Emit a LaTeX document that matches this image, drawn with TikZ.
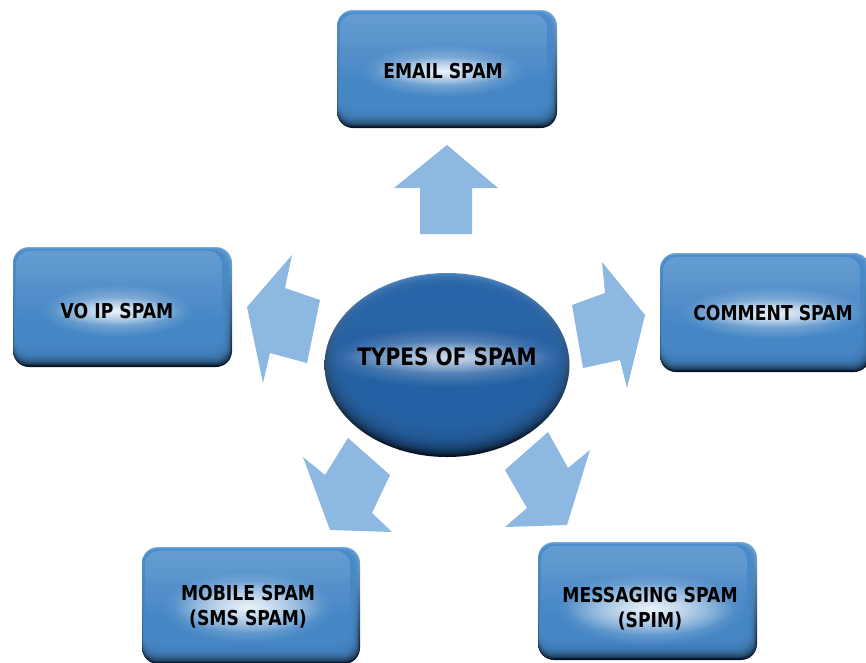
\documentclass[tikz,border=0pt]{standalone}
\usepackage{fontspec}
\setmainfont{DejaVu Sans}[FakeStretch=0.84]
\usetikzlibrary{shapes.geometric,fadings}
\definecolor{boxblue}{RGB}{72,138,202}
\definecolor{boxtop}{RGB}{130,180,226}
\definecolor{boxdark}{RGB}{6,18,32}
\definecolor{arrowblue}{RGB}{141,184,226}
\definecolor{ellblue}{RGB}{40,101,168}
\definecolor{elltop}{RGB}{80,135,195}
\definecolor{elldark}{RGB}{4,18,34}
\tikzfading[name=glowfade, inner color=transparent!0, outer color=transparent!100]
\tikzfading[name=topfade, top color=transparent!0, bottom color=transparent!100]
\begin{document}
\begin{tikzpicture}[x=1pt,y=-1pt,
  spambox/.style={rectangle, rounded corners=16pt, inner sep=0pt,
    top color=boxtop, bottom color=boxdark,
    path picture={
      \foreach \i in {1,...,12}{
        \fill[boxblue, fill opacity=0.25, rounded corners=15pt]
          ([shift={(\i*0.15pt,-\i*0.4pt)}]path picture bounding box.north west)
          rectangle
          ([shift={(-\i*0.8pt,\i*1.6pt)}]path picture bounding box.south east);
      }
      \fill[white, fill opacity=0.16, path fading=topfade, rounded corners=14pt]
          ([shift={(3pt,-4pt)}]path picture bounding box.north west)
          rectangle
          ([shift={(-10pt,45pt)}]path picture bounding box.south east);
    }},
  centerell/.style={ellipse, inner sep=0pt, top color=elltop, bottom color=elldark,
    path picture={
      \foreach \i in {1,...,16}{
        \fill[ellblue, fill opacity=0.2]
          ([shift={(\i*0.05pt,\i*0.5pt)}]path picture bounding box.center)
          ellipse ({122.5pt-\i*1.4pt} and {92pt-\i*1.6pt});
      }
    }},
  glow/.style={white, fill opacity=0.55, path fading=glowfade},
  tightglow/.style={white, fill opacity=0.75, path fading=glowfade},
  lab/.style={font=\fontsize{20.5}{25}\selectfont\bfseries, text=black, align=center, inner sep=0pt},
  biglab/.style={font=\fontsize{24}{29}\selectfont\bfseries, text=black, align=center, inner sep=0pt},
  blockarrow/.style={fill=arrowblue, draw=none}
]
\path[use as bounding box] (0,0) rectangle (866,662);
\clip (0,0) rectangle (866,662);
\fill[white] (0,0) rectangle (866,662);

% arrows
\fill[blockarrow] (420,234) -- (472,234) -- (472,188) -- (498,188) -- (447,145) -- (394,188) -- (420,188) -- cycle;
\fill[blockarrow] (292,255) -- (247,307) -- (263,383) -- (270,353) -- (307,363) -- (320,300) -- (285,288) -- cycle;
\fill[blockarrow] (602,262) -- (645,315) -- (627,388) -- (620,360) -- (583,368) -- (572,305) -- (605,293) -- cycle;
\fill[blockarrow] (303,457) -- (325,475) -- (348,438) -- (390,475) -- (372,513) -- (392,532) -- (330,530) -- cycle;
\fill[blockarrow] (505,470) -- (548,432) -- (568,468) -- (590,450) -- (567,525) -- (505,527) -- (527,508) -- cycle;

% boxes
\node[spambox, minimum width=220pt, minimum height=118pt] (email) at (447,69) {};
\node[spambox, minimum width=219pt, minimum height=120pt] (voip) at (122.5,307) {};
\node[spambox, minimum width=210pt, minimum height=119pt] (comment) at (765,312.5) {};
\node[spambox, minimum width=218pt, minimum height=117pt] (mobile) at (251,605.5) {};
\node[spambox, minimum width=219pt, minimum height=118pt] (messaging) at (647.5,601) {};
\node[centerell, minimum width=245pt, minimum height=184pt] (types) at (447,365) {};

% glows
\fill[glow] (443,71) ellipse (82 and 26);
\fill[tightglow] (443,71) ellipse (68 and 14);
\fill[glow] (117,311) ellipse (76 and 26);
\fill[tightglow] (117,311) ellipse (64 and 14);
\fill[glow] (773,313) ellipse (94 and 26);
\fill[tightglow] (773,313) ellipse (82 and 14);
\fill[glow] (248,607) ellipse (86 and 36);
\fill[tightglow] (248,607) ellipse (74 and 26);
\fill[glow] (650,609) ellipse (94 and 36);
\fill[tightglow] (650,609) ellipse (84 and 26);
\fill[white, fill opacity=0.45, path fading=glowfade] (447,357) ellipse (118 and 30);
\fill[white, fill opacity=0.6, path fading=glowfade] (447,357) ellipse (104 and 16);

% labels
\node[lab] (emailtext) at (443,71) {EMAIL SPAM};
\node[lab] (voiptext) at (117,311) {VO IP SPAM};
\node[lab] (commenttext) at (773,313) {COMMENT SPAM};
\node[lab] (mobiletext) at (248,607) {MOBILE SPAM\\(SMS SPAM)};
\node[lab] (messagingtext) at (650,609) {MESSAGING SPAM\\(SPIM)};
\node[biglab] (typestext) at (447,357) {TYPES OF SPAM};
\end{tikzpicture}
\end{document}
